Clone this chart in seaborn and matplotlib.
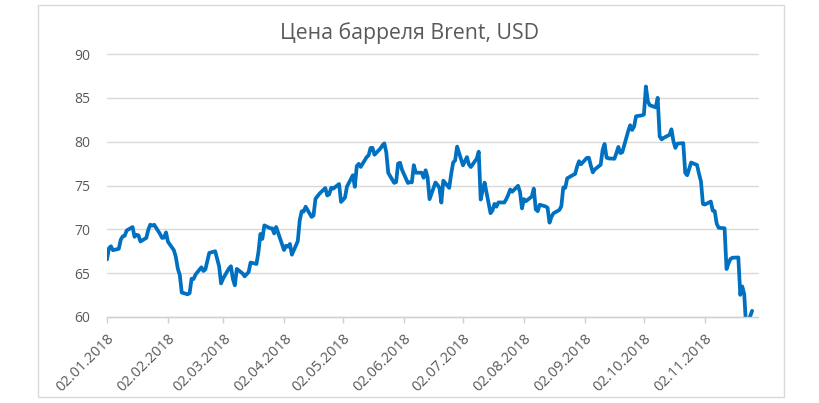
import matplotlib
matplotlib.use("Agg")
import matplotlib.pyplot as plt
import matplotlib.dates as mdates
from matplotlib.patches import Rectangle
import numpy as np
import pandas as pd
import seaborn as sns

# ---- data: Brent daily prices, USD (trading days, 2018) ----
jan = [66.57, 67.84, 68.07, 67.62, 67.78, 68.82, 69.20, 69.26, 69.87, 70.26, 69.15,
       69.38, 69.31, 68.61, 69.03, 69.96, 70.53, 70.42, 70.52, 69.46, 69.02, 69.05]
feb = [69.65, 68.58, 67.62, 66.86, 65.51, 64.81, 62.79, 62.59, 62.72, 64.36, 64.33,
       64.84, 65.67, 65.25, 65.42, 66.39, 67.31, 67.50, 66.63, 65.78]
mar = [63.83, 64.37, 65.54, 65.79, 64.34, 63.61, 65.49, 64.95, 64.64, 64.89, 65.12,
       66.21, 66.05, 67.42, 69.47, 68.91, 70.45, 70.12, 70.11, 69.53, 70.27]
apr = [67.64, 68.12, 68.02, 68.33, 67.11, 68.65, 71.04, 72.06, 72.02, 72.58, 71.42,
       71.58, 73.48, 73.78, 74.06, 74.71, 73.86, 74.00, 74.74, 74.64, 75.17]
may = [73.13, 73.36, 73.62, 74.87, 76.17, 74.85, 77.21, 77.47, 77.12, 78.23, 78.43,
       79.28, 79.30, 78.51, 79.22, 79.57, 79.80, 78.79, 76.44, 75.30, 75.39, 77.50, 77.59]
jun = [76.79, 75.29, 75.38, 75.36, 77.32, 76.46, 76.46, 75.88, 76.74, 75.94, 73.44,
       75.34, 75.08, 74.74, 73.05, 75.55, 74.73, 76.31, 77.62, 77.85, 79.44]
jul = [77.30, 77.76, 78.24, 77.39, 77.11, 78.07, 78.86, 73.40, 74.45, 75.33, 71.84,
       72.16, 72.90, 72.58, 73.07, 73.06, 73.44, 73.93, 74.54, 74.29, 74.97, 74.25]
aug = [72.39, 73.45, 73.21, 73.75, 74.65, 72.28, 72.07, 72.81, 72.61, 72.46, 70.76,
       71.43, 71.83, 72.21, 72.63, 74.78, 74.73, 75.82, 76.21, 76.31, 77.14, 77.77, 77.42]
sep = [78.15, 78.17, 77.27, 76.50, 76.83, 77.37, 79.06, 79.74, 78.18, 78.09, 78.05,
       78.70, 79.40, 78.70, 78.80, 81.20, 81.87, 81.34, 81.72, 82.90]
oct_ = [83.00, 83.10, 86.29, 84.58, 84.16, 83.91, 85.00, 80.60, 80.26, 80.43, 80.78,
        81.41, 80.05, 79.29, 79.78, 79.83, 76.44, 76.17, 76.89, 77.62, 77.34, 76.34, 75.47]
nov = [72.89, 72.83, 73.17, 72.13, 72.07, 70.65, 70.18, 70.12, 65.47, 66.12, 66.62,
       66.76, 66.79, 62.53, 63.48, 62.60, 58.80, 60.70]

start_date = "2018-01-02"
end_date = "2018-11-26"
exchange_holidays = ["2018-03-30"]

tick_dates = ["2018-01-02", "2018-02-02", "2018-03-02", "2018-04-02", "2018-05-02",
              "2018-06-02", "2018-07-02", "2018-08-02", "2018-09-02", "2018-10-02",
              "2018-11-02"]
y_ticks = [60, 65, 70, 75, 80, 85, 90]
title = "Цена барреля Brent, USD"

prices = jan + feb + mar + apr + may + jun + jul + aug + sep + oct_ + nov
dates = pd.bdate_range(start_date, end_date, freq="C", holidays=exchange_holidays)
assert len(dates) == len(prices), (len(dates), len(prices))
df = pd.DataFrame({"date": dates, "price": prices})

# ---- style ----
sns.set_theme(style="white")
plt.rcParams["font.family"] = ["Open Sans", "DejaVu Sans"]

grey_text = "#595959"
grid_col = "#d9d9d9"

fig = plt.figure(figsize=(8.2, 4.03), dpi=100)
fig.patch.set_facecolor("white")
ax = fig.add_axes([107 / 820, 1 - 317 / 403, (758 - 107) / 820, (317 - 54) / 403])

sns.lineplot(data=df, x="date", y="price", ax=ax, color="#0070C0", linewidth=2.7,
             solid_joinstyle="round", solid_capstyle="round")

ax.set_ylim(60, 90)
ax.set_xlim(pd.Timestamp(start_date), pd.Timestamp("2018-11-29"))
ax.set_yticks(y_ticks)
ax.set_xticks(pd.to_datetime(tick_dates))
ax.xaxis.set_major_formatter(mdates.DateFormatter("%d.%m.%Y"))

ax.set_xlabel("")
ax.set_ylabel("")

ax.yaxis.grid(True, color=grid_col, linewidth=1.0)
ax.xaxis.grid(False)
for gl in ax.get_ygridlines():
    gl.set_clip_on(False)

for s in ["top", "right", "left"]:
    ax.spines[s].set_visible(False)
ax.spines["bottom"].set_color("#d0d0d0")
ax.spines["bottom"].set_linewidth(1.0)

ax.tick_params(axis="y", length=0, pad=12, labelsize=10, labelcolor=grey_text)
ax.tick_params(axis="x", direction="out", length=4, width=1, color="#d0d0d0",
               pad=6, labelsize=10.5, labelcolor=grey_text, bottom=True)
for lab in ax.get_xticklabels():
    lab.set_rotation(45)
    lab.set_ha("right")
    lab.set_va("top")
    lab.set_rotation_mode("anchor")

fig.text(0.5, 1 - 33 / 403, title, ha="center", va="center", fontsize=15.3,
         color=grey_text)

fig.patches.append(Rectangle((38 / 820, 1 - 397 / 403), (784 - 38) / 820,
                             (397 - 5) / 403, transform=fig.transFigure,
                             fill=False, edgecolor="#d9d9d9", linewidth=1.0))

fig.savefig("out.png", dpi=100, facecolor="white")
